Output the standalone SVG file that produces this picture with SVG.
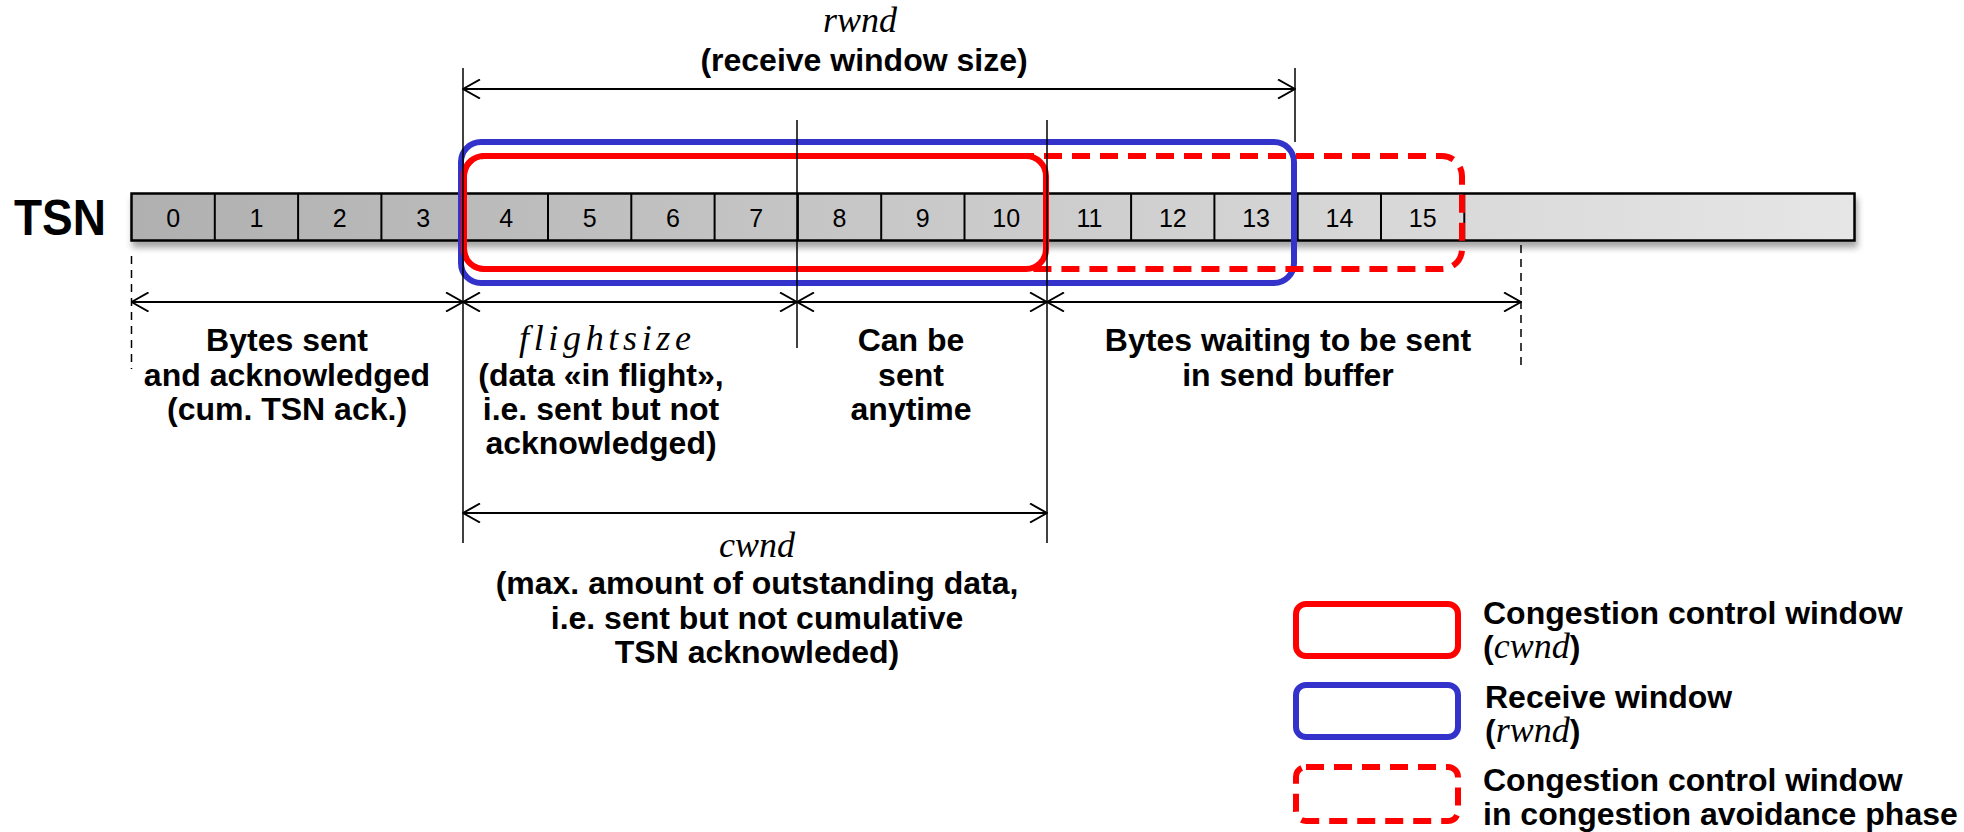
<svg xmlns="http://www.w3.org/2000/svg" width="1964" height="832" viewBox="0 0 1964 832">
<defs>
<linearGradient id="barGrad" x1="0" y1="0" x2="1" y2="0">
<stop offset="0" stop-color="#b0b0b0"/>
<stop offset="1" stop-color="#e6e6e6"/>
</linearGradient>
<filter id="shadow" x="-5%" y="-50%" width="110%" height="200%">
<feDropShadow dx="2" dy="6" stdDeviation="3" flood-color="#000" flood-opacity="0.35"/>
</filter>
<marker id="arr" viewBox="0 0 20 20" refX="19" refY="10" markerWidth="20" markerHeight="20" markerUnits="userSpaceOnUse" orient="auto-start-reverse">
<path d="M2,0.5 L19,10 L2,19.5" fill="none" stroke="#000" stroke-width="2"/>
</marker>
</defs>
<style>
.t{font-family:"Liberation Sans",Arial,sans-serif;font-weight:bold;font-size:32px;fill:#000;text-anchor:middle}
.tl{font-family:"Liberation Sans",Arial,sans-serif;font-weight:bold;font-size:32px;fill:#000}
.m{font-family:"Liberation Serif","Times New Roman",serif;font-style:italic;font-weight:normal;font-size:36px}
.num{font-family:"Liberation Sans",Arial,sans-serif;font-size:25px;fill:#000;text-anchor:middle}
.div{stroke:#000;stroke-width:2}
.arrow{stroke:#000;stroke-width:2;fill:none;marker-start:url(#arr);marker-end:url(#arr)}
.vl{stroke:#000;stroke-width:1.5;fill:none}
.dl{stroke:#000;stroke-width:1.5;fill:none;stroke-dasharray:8 6}
.red{fill:none;stroke:#ff0000;stroke-width:6}
.blue{fill:none;stroke:#3333cc;stroke-width:6}
.reddash{fill:none;stroke:#ff0000;stroke-width:6;stroke-dasharray:18 10}
</style>
<rect width="1964" height="832" fill="#fff"/>

<g id="tsn-label">
<text x="14" y="235" font-family="Liberation Sans, Arial, sans-serif" font-weight="bold" font-size="50" textLength="92" lengthAdjust="spacingAndGlyphs">TSN</text>
</g>

<g id="tsn-bar">
<rect x="131.5" y="193.5" width="1723" height="47" fill="url(#barGrad)" stroke="#000" stroke-width="2.5" filter="url(#shadow)"/>
<g class="div">
<line x1="214.8" y1="193.5" x2="214.8" y2="240.5"/>
<line x1="298.1" y1="193.5" x2="298.1" y2="240.5"/>
<line x1="381.4" y1="193.5" x2="381.4" y2="240.5"/>
<line x1="464.7" y1="193.5" x2="464.7" y2="240.5"/>
<line x1="548" y1="193.5" x2="548" y2="240.5"/>
<line x1="631.3" y1="193.5" x2="631.3" y2="240.5"/>
<line x1="714.6" y1="193.5" x2="714.6" y2="240.5"/>
<line x1="797.9" y1="193.5" x2="797.9" y2="240.5"/>
<line x1="881.2" y1="193.5" x2="881.2" y2="240.5"/>
<line x1="964.5" y1="193.5" x2="964.5" y2="240.5"/>
<line x1="1047.8" y1="193.5" x2="1047.8" y2="240.5"/>
<line x1="1131.1" y1="193.5" x2="1131.1" y2="240.5"/>
<line x1="1214.4" y1="193.5" x2="1214.4" y2="240.5"/>
<line x1="1297.7" y1="193.5" x2="1297.7" y2="240.5"/>
<line x1="1381" y1="193.5" x2="1381" y2="240.5"/>
<line x1="1464.3" y1="193.5" x2="1464.3" y2="240.5"/>
</g>
<g class="num">
<text x="173.2" y="227">0</text>
<text x="256.5" y="227">1</text>
<text x="339.8" y="227">2</text>
<text x="423.1" y="227">3</text>
<text x="506.3" y="227">4</text>
<text x="589.6" y="227">5</text>
<text x="672.9" y="227">6</text>
<text x="756.2" y="227">7</text>
<text x="839.5" y="227">8</text>
<text x="922.8" y="227">9</text>
<text x="1006.2" y="227">10</text>
<text x="1089.5" y="227">11</text>
<text x="1172.8" y="227">12</text>
<text x="1256.1" y="227">13</text>
<text x="1339.4" y="227">14</text>
<text x="1422.7" y="227">15</text>
</g>
</g>

<g id="rwnd-window">
<rect class="blue" x="461" y="142" width="833" height="141" rx="20"/>
</g>
<g id="cwnd-ca-window">
<rect class="reddash" x="464" y="156" width="998" height="113" rx="20"/>
</g>
<g id="cwnd-window">
<rect class="red" x="464" y="156" width="582" height="113" rx="20"/>
</g>

<g id="connectors">
<line class="vl" x1="463" y1="68" x2="463" y2="543"/>
<line class="vl" x1="1295" y1="68" x2="1295" y2="142"/>
<line class="vl" x1="797" y1="120" x2="797" y2="348"/>
<line class="vl" x1="1047" y1="120" x2="1047" y2="543"/>
<line class="dl" x1="131.5" y1="256" x2="131.5" y2="369"/>
<line class="dl" x1="1521" y1="245" x2="1521" y2="369"/>
<line class="arrow" x1="463" y1="89" x2="1295" y2="89"/>
<line class="arrow" x1="131.5" y1="302" x2="463" y2="302"/>
<line class="arrow" x1="463" y1="302" x2="797" y2="302"/>
<line class="arrow" x1="797" y1="302" x2="1047" y2="302"/>
<line class="arrow" x1="1047" y1="302" x2="1521" y2="302"/>
<line class="arrow" x1="463" y1="513" x2="1047" y2="513"/>
</g>

<g id="label-rwnd">
<text class="m" x="860" y="32" text-anchor="middle">rwnd</text>
<text class="t" x="864" y="71">(receive window size)</text>
</g>
<g id="label-acked">
<text class="t" x="287" y="351">Bytes sent</text>
<text class="t" x="287" y="386">and acknowledged</text>
<text class="t" x="287" y="420">(cum. TSN ack.)</text>
</g>
<g id="label-flightsize">
<text class="m" x="605" y="350" text-anchor="middle" textLength="172" lengthAdjust="spacing">flightsize</text>
<text class="t" x="601" y="386">(data «in flight»,</text>
<text class="t" x="601" y="420">i.e. sent but not</text>
<text class="t" x="601" y="454">acknowledged)</text>
</g>
<g id="label-anytime">
<text class="t" x="911" y="351">Can be</text>
<text class="t" x="911" y="386">sent</text>
<text class="t" x="911" y="420">anytime</text>
</g>
<g id="label-waiting">
<text class="t" x="1288" y="351">Bytes waiting to be sent</text>
<text class="t" x="1288" y="386">in send buffer</text>
</g>
<g id="label-cwnd">
<text class="m" x="757" y="557" text-anchor="middle">cwnd</text>
<text class="t" x="757" y="594">(max. amount of outstanding data,</text>
<text class="t" x="757" y="629">i.e. sent but not cumulative</text>
<text class="t" x="757" y="663">TSN acknowleded)</text>
</g>

<g id="legend-cwnd">
<rect class="red" x="1296" y="604" width="162" height="52" rx="10"/>
<text class="tl" x="1483" y="624">Congestion control window</text>
<text class="tl" x="1483" y="658">(<tspan class="m">cwnd</tspan>)</text>
</g>
<g id="legend-rwnd">
<rect class="blue" x="1296" y="685" width="162" height="52" rx="10"/>
<text class="tl" x="1485" y="708">Receive window</text>
<text class="tl" x="1485" y="742">(<tspan class="m">rwnd</tspan>)</text>
</g>
<g id="legend-ca">
<rect class="reddash" x="1296" y="767" width="162" height="54" rx="10"/>
<text class="tl" x="1483" y="791">Congestion control window</text>
<text class="tl" x="1483" y="825">in congestion avoidance phase</text>
</g>
</svg>
